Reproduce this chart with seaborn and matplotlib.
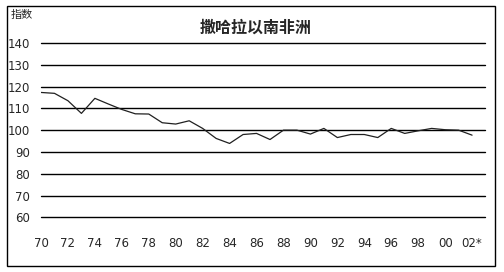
import matplotlib
matplotlib.use("Agg")
import matplotlib.pyplot as plt
from matplotlib.patches import Rectangle
import seaborn as sns
import pandas as pd

years = list(range(1970, 2003))
index_values = [117.3, 116.9, 113.5, 107.7, 114.6, 112.0, 109.5, 107.5, 107.4, 103.4,
                102.8, 104.3, 100.8, 96.2, 93.9, 98.0, 98.5, 95.7, 100.0, 100.0,
                98.2, 100.8, 96.6, 98.0, 98.0, 96.6, 100.8, 98.5, 99.7, 100.8,
                100.2, 100.0, 97.7]
tick_years = list(range(1970, 2003, 2))
tick_labels = ["70", "72", "74", "76", "78", "80", "82", "84", "86", "88",
               "90", "92", "94", "96", "98", "00", "02*"]
y_ticks = [60, 70, 80, 90, 100, 110, 120, 130, 140]
title = "撒哈拉以南非洲"
y_unit = "指数"

sns.set_theme(style="white")
plt.rcParams['font.family'] = ['Noto Sans CJK SC', 'DejaVu Sans']

df = pd.DataFrame({"year": years, "value": index_values})
df["pos"] = df["year"] - 1970

W, H = 504, 272
fig = plt.figure(figsize=(W / 100, H / 100), dpi=100)
fig.patch.set_facecolor("white")
ax = fig.add_axes([41 / W, 1 - 217.3 / H, (485 - 41) / W, (217.3 - 43) / H])

for v in y_ticks:
    ax.axhline(v, color="black", lw=1.0, zorder=1, clip_on=False)

sns.lineplot(data=df, x="pos", y="value", ax=ax, color="#202020", lw=0.9, zorder=3)

ax.set_xlim(0, 32.96)
ax.set_ylim(60, 140)
ax.set_yticks(y_ticks)
ax.set_yticklabels([str(v) for v in y_ticks], fontsize=8.5, family=['DejaVu Sans'])
ax.set_xticks([y - 1970 for y in tick_years])
ax.set_xticklabels(tick_labels, fontsize=8.5, family=['DejaVu Sans'])
ax.tick_params(axis="y", length=0, pad=8)
ax.tick_params(axis="x", length=0, pad=14)
ax.set_xlabel("")
ax.set_ylabel("")
for s in ax.spines.values():
    s.set_visible(False)
ax.set_facecolor("none")

fig.add_artist(Rectangle((7 / W, 1 - 266 / H), (495 - 7) / W, (266 - 6) / H,
                         transform=fig.transFigure, fill=False, ec="black", lw=1.0))
fig.text(256 / W, 1 - 28 / H, title, ha="center", va="center", fontsize=11.5,
         fontweight="bold")
fig.text(11 / W, 1 - 15 / H, y_unit, ha="left", va="center", fontsize=8)

fig.savefig("out.png", dpi=100)
